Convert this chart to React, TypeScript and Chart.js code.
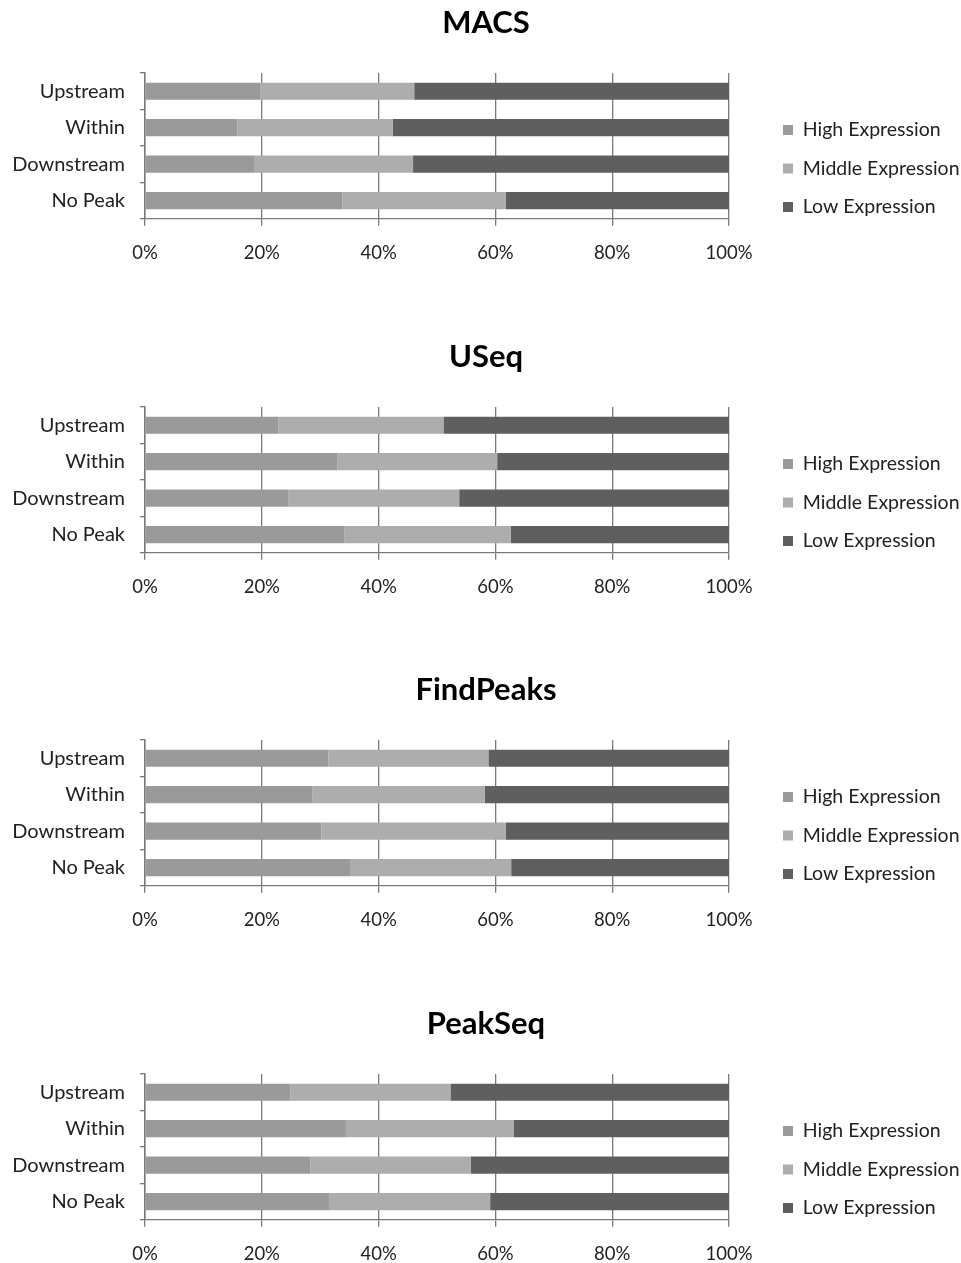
import React, { useEffect, useRef } from "react";
import { Chart, registerables } from "chart.js";

Chart.register(...registerables);

const categories = ["Upstream", "Within", "Downstream", "No Peak"];
const seriesNames = ["High Expression", "Middle Expression", "Low Expression"];
const seriesColors = ["#9a9a9a", "#adadad", "#5f5f5f"];
const xTicks = [0, 20, 40, 60, 80, 100];

const macsHigh = [19.7, 15.8, 18.8, 33.8];
const macsMiddle = [26.4, 26.6, 27.1, 28.0];
const macsLow = [53.9, 57.6, 54.1, 38.2];

const useqHigh = [22.8, 32.9, 24.6, 34.1];
const useqMiddle = [28.3, 27.4, 29.2, 28.5];
const useqLow = [48.9, 39.7, 46.2, 37.4];

const findPeaksHigh = [31.4, 28.7, 30.2, 35.1];
const findPeaksMiddle = [27.4, 29.5, 31.6, 27.6];
const findPeaksLow = [41.2, 41.8, 38.2, 37.3];

const peakSeqHigh = [24.9, 34.4, 28.3, 31.5];
const peakSeqMiddle = [27.4, 28.7, 27.5, 27.6];
const peakSeqLow = [47.7, 36.9, 44.2, 40.9];

const panelTitles = ["MACS", "USeq", "FindPeaks", "PeakSeq"];
const panelSeries = [
  [macsHigh, macsMiddle, macsLow],
  [useqHigh, useqMiddle, useqLow],
  [findPeaksHigh, findPeaksMiddle, findPeaksLow],
  [peakSeqHigh, peakSeqMiddle, peakSeqLow],
];
const panelTops = [0, 334, 667, 1001];

const FONT = "Lato, 'Open Sans', sans-serif";
const TEXT = "#222222";
const LINE = "#7a7a7a";

const legendPlugin = {
  id: "legendPlacement",
  beforeLayout(chart: any) {
    const lg = chart.legend;
    if (lg && !lg._patched) {
      const orig = lg.fit.bind(lg);
      lg.fit = () => {
        orig();
        lg.width = 232;
      };
      lg._patched = true;
    }
  },
  afterLayout(chart: any) {
    const lg = chart.legend;
    if (lg) {
      lg.left += 35;
      lg.right += 35;
      lg.top += 28.5;
      lg.bottom += 28.5;
    }
  },
};

function Panel({ title, series, top }: { title: string; series: number[][]; top: number }) {
  const ref = useRef<HTMLCanvasElement>(null);
  useEffect(() => {
    if (!ref.current) return;
    const chart = new Chart(ref.current, {
      type: "bar",
      data: {
        labels: categories,
        datasets: series.map((vals, i) => ({
          label: seriesNames[i],
          data: vals,
          backgroundColor: seriesColors[i],
          borderWidth: 0,
          barPercentage: 0.47,
          categoryPercentage: 1,
        })),
      },
      options: {
        indexAxis: "y",
        animation: false,
        responsive: false,
        layout: { padding: { left: 11, right: 0, top: 0, bottom: 54 } },
        plugins: {
          title: {
            display: true,
            text: title,
            color: "#000",
            font: { family: FONT, size: 31, weight: "bold" },
            padding: { top: 4.4, bottom: 31.4 },
          },
          legend: {
            display: true,
            position: "right",
            align: "center",
            labels: {
              boxWidth: 10,
              boxHeight: 10,
              padding: 19,
              color: TEXT,
              font: { family: FONT, size: 19.5 },
            },
          },
          tooltip: { enabled: false },
        },
        scales: {
          x: {
            stacked: true,
            min: 0,
            max: 100,
            afterBuildTicks: (scale: any) => {
              scale.ticks = xTicks.map((v) => ({ value: v }));
            },
            ticks: {
              color: TEXT,
              font: { family: FONT, size: 18.5 },
              padding: 16,
              maxRotation: 0,
              callback: (v: any) => v + "%",
            },
            grid: { color: LINE, lineWidth: 1.3, tickLength: 7, drawTicks: true },
            border: { display: true, color: LINE, width: 1.3 },
          },
          y: {
            stacked: true,
            afterFit: (scale: any) => {
              scale.width = 134;
            },
            ticks: {
              color: TEXT,
              font: { family: FONT, size: 20 },
              padding: 15,
            },
            grid: {
              offset: true,
              drawOnChartArea: false,
              drawTicks: true,
              tickLength: 5,
              color: LINE,
              lineWidth: 1.3,
            },
            border: { display: true, color: LINE, width: 1.5 },
          },
        },
      },
      plugins: [legendPlugin],
    } as any);
    return () => chart.destroy();
  }, [title, series]);
  return (
    <div style={{ position: "absolute", left: 0, top, width: 961, height: 334 }}>
      <canvas ref={ref} width={961} height={334} style={{ width: 961, height: 334, display: "block" }} />
    </div>
  );
}

export default function App() {
  return (
    <div
      style={{
        position: "absolute",
        left: 0,
        top: 0,
        width: 961,
        height: 1263,
        overflow: "hidden",
        background: "#fff",
      }}
    >
      {panelTitles.map((t, i) => (
        <Panel key={t} title={t} series={panelSeries[i]} top={panelTops[i]} />
      ))}
    </div>
  );
}
